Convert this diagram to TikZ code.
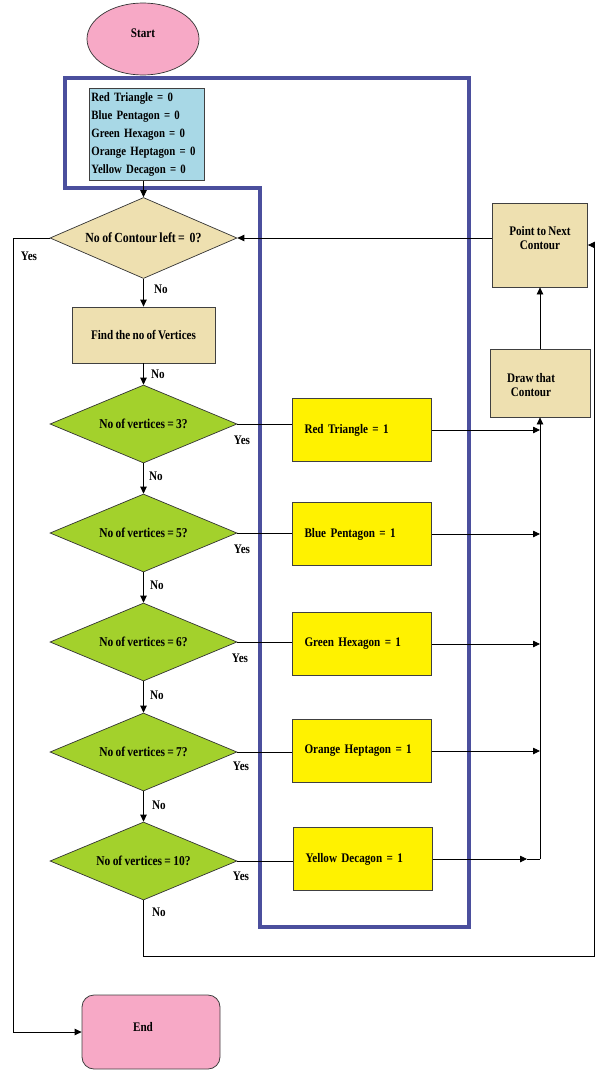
\documentclass[tikz,border=0pt]{standalone}
\usepackage{fontspec}
\setmainfont{Liberation Serif}[FakeStretch=0.85,WordSpace=0.8]
\usetikzlibrary{shapes.geometric,arrows.meta}

\definecolor{frameblue}{HTML}{4B4F9D}
\definecolor{tanfill}{HTML}{EEE0B0}
\definecolor{greenfill}{HTML}{A3D12C}
\definecolor{yellowfill}{HTML}{FFF200}
\definecolor{pinkfill}{HTML}{F7A9C6}
\definecolor{initblue}{HTML}{A8D8E6}

\begin{document}
\begin{tikzpicture}[x=1pt,y=-1pt,
  txt/.style={font=\bfseries\fontsize{13.1}{14.5}\selectfont},
  flow/.style={draw=black, line width=0.8pt},
  arr/.style={flow, -{Triangle[length=7pt,width=6.5pt]}},
  box/.style={rectangle, draw=black!75, line width=0.8pt, inner sep=0pt, txt},
  tanbox/.style={box, fill=tanfill},
  setbox/.style={box, fill=yellowfill, minimum width=139pt, minimum height=63pt,
    text width=115pt, inner xsep=12pt, align=left},
  decision/.style={diamond, draw=black!80, line width=0.7pt, fill=greenfill,
    minimum width=187pt, minimum height=78pt, inner sep=0pt, shape aspect=2.4,
    font=\bfseries\fontsize{13.5}{15}\selectfont},
  lbl/.style={txt, inner sep=0pt}
]
\useasboundingbox (0,0) rectangle (596,1071);

% container frame around the counters
\draw[frameblue, line width=4pt, line join=miter]
  (65,78) -- (469,78) -- (469,927) -- (260,927) -- (260,188) -- (65,188) -- cycle;

% start / initialisation
\node[ellipse, draw=black!80, fill=pinkfill, line width=0.7pt, minimum width=112pt,
  minimum height=72pt, inner sep=0pt, label={[txt,yshift=6pt]center:Start}]
  (start) at (143,39) {};
\node[box, fill=initblue, anchor=north west, minimum width=115pt, minimum height=92pt,
  text width=111pt, inner xsep=2pt, align=left,
  font=\bfseries\fontsize{12.7}{18}\selectfont] (init) at (89,88)
  {Red Triangle = 0\\Blue Pentagon = 0\\Green Hexagon = 0\\Orange Heptagon = 0\\Yellow Decagon = 0};

% main decision chain
\node[decision, fill=tanfill, minimum height=81pt,
  font=\bfseries\fontsize{13.9}{15}\selectfont] (d0) at (143.5,238) {No of Contour left =~~0?};
\node[tanbox, minimum width=143pt, minimum height=56pt] (find) at (143.5,335) {Find the no of Vertices};
\node[decision] (d3)  at (143.5,424) {No of vertices = 3?};
\node[decision] (d5)  at (143.5,533) {No of vertices = 5?};
\node[decision] (d6)  at (143.5,642) {No of vertices = 6?};
\node[decision] (d7)  at (143.5,752) {No of vertices = 7?};
\node[decision] (d10) at (143.5,861) {No of vertices = 10?};

% counter updates
\node[setbox] (r3)  at (362,430) {Red Triangle = 1};
\node[setbox] (r5)  at (362,534) {Blue Pentagon = 1};
\node[setbox] (r6)  at (362,644) {Green Hexagon = 1};
\node[setbox] (r7)  at (362,751) {Orange Heptagon = 1};
\node[setbox] (r10) at (363,859) {Yellow Decagon = 1};

% contour handling
\node[tanbox, minimum width=95pt, minimum height=84pt,
  label={[txt,align=center,yshift=7pt]center:{Point to Next\\Contour}}] (pnext) at (540,245) {};
\node[tanbox, minimum width=100pt, minimum height=68pt,
  label={[txt,align=center,xshift=-9pt,yshift=-2pt]center:{Draw that\\Contour}}] (drawc) at (540,383) {};

% end
\node[box, fill=pinkfill, rounded corners=12pt, minimum width=138pt, minimum height=74pt,
  label={[txt,xshift=-8pt,yshift=5pt]center:End}] (endbox) at (151,1032) {};

% connectors
\draw[arr] (init.south -| d0.north) -- (d0.north);
\draw[arr] (pnext.west |- d0.east) -- (d0.east);
\coordinate (yesL) at (13,238);
\draw[arr] (d0.west) -- (yesL) |- (endbox.west);
\draw[arr] (d0.south) -- (find.north);
\draw[arr] (find.south) -- (d3.north);
\draw[arr] (d3.south) -- (d5.north);
\draw[arr] (d5.south) -- (d6.north);
\draw[arr] (d6.south) -- (d7.north);
\draw[arr] (d7.south) -- (d10.north);

\foreach \d/\r in {d3/r3, d5/r5, d6/r6, d7/r7, d10/r10}
  \draw[flow] (\d.east) -- (\d.east -| \r.west);

\foreach \r in {r3, r5, r6, r7}
  \draw[arr] (\r.east) -- (\r.east -| drawc.south);
\coordinate (t10) at (527,859);
\coordinate (b10) at (drawc.south |- r10.east);
\draw[arr] (r10.east) -- (t10);
\draw[flow] (t10) -- (b10);
\draw[arr] (b10) -- (drawc.south);
\draw[arr] (drawc.north) -- (pnext.south);

\coordinate (nb) at (143.5,956);
\coordinate (nr) at (594,956);
\draw[arr] (d10.south) -- (nb) -- (nr) |- (pnext.east);

% branch labels
\node[lbl] (y0)  at (29,256)  {Yes};
\node[lbl] (y3)  at (242,440) {Yes};
\node[lbl] (y5)  at (242,549) {Yes};
\node[lbl] (y6)  at (240,658) {Yes};
\node[lbl] (y7)  at (241,766) {Yes};
\node[lbl] (y10) at (241,876) {Yes};
\node[lbl] (n0)  at (161,289) {No};
\node[lbl] (nf)  at (158,374) {No};
\node[lbl] (n3)  at (156,476) {No};
\node[lbl] (n5)  at (157,585) {No};
\node[lbl] (n6)  at (157,695) {No};
\node[lbl] (n7)  at (159,805) {No};
\node[lbl] (n10) at (159,912) {No};
\end{tikzpicture}
\end{document}
